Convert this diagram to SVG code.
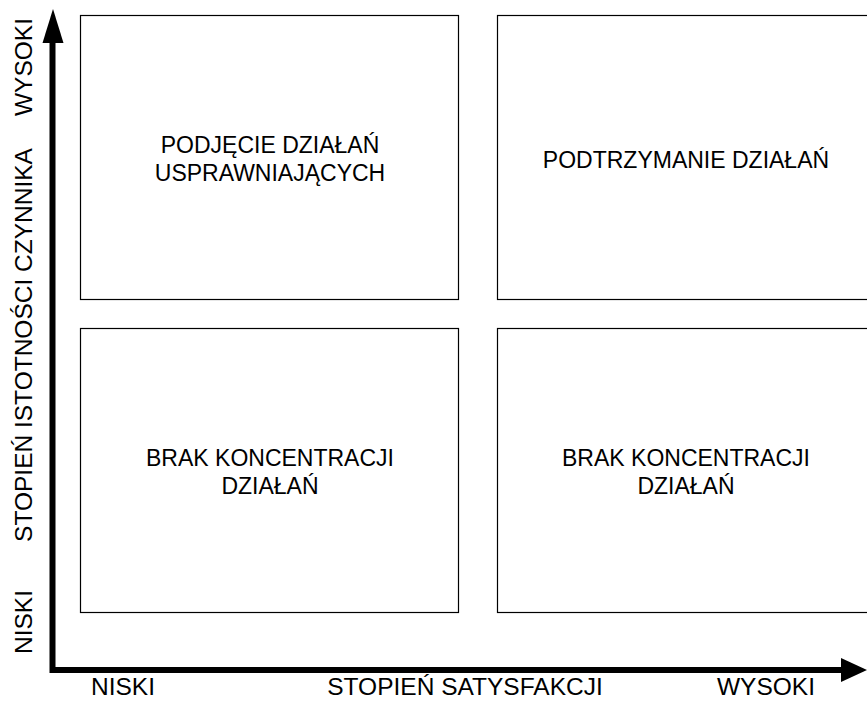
<svg xmlns="http://www.w3.org/2000/svg" width="867" height="701" viewBox="0 0 867 701">
<style>
.box{fill:#fff;stroke:#000;stroke-width:1.2}
.t{font-family:"Liberation Sans",Arial,sans-serif;font-size:23px;fill:#000;text-anchor:middle}
.a{font-family:"Liberation Sans",Arial,sans-serif;font-size:24.5px;fill:#000;text-anchor:middle}
.ax{stroke:#000;stroke-width:6;fill:none}
</style>
<rect width="867" height="701" fill="#fff"/>
<g id="q1"><rect class="box" x="80.5" y="15.5" width="378" height="284"/>
<text class="t" x="270" y="153">PODJĘCIE DZIAŁAŃ</text>
<text class="t" x="270" y="181">USPRAWNIAJĄCYCH</text></g>
<g id="q2"><rect class="box" x="497.5" y="15.5" width="378" height="284"/>
<text class="t" x="686" y="168">PODTRZYMANIE DZIAŁAŃ</text></g>
<g id="q3"><rect class="box" x="80.5" y="328.5" width="378" height="284"/>
<text class="t" x="270" y="466">BRAK KONCENTRACJI</text>
<text class="t" x="270" y="494">DZIAŁAŃ</text></g>
<g id="q4"><rect class="box" x="497.5" y="328.5" width="378" height="284"/>
<text class="t" x="686" y="466">BRAK KONCENTRACJI</text>
<text class="t" x="686" y="494">DZIAŁAŃ</text></g>
<g id="axes">
<path class="ax" d="M52.5,40 V670 H842" stroke-linejoin="miter"/>
<polygon points="53,9 42.5,43 63.5,43" fill="#000"/>
<polygon points="867,670 841,658 841,682" fill="#000"/>
</g>
<g id="labels">
<text class="a" transform="translate(32,67) rotate(-90)">WYSOKI</text>
<text class="a" transform="translate(32,345) rotate(-90)">STOPIEŃ ISTOTNOŚCI CZYNNIKA</text>
<text class="a" transform="translate(32,622) rotate(-90)">NISKI</text>
<text class="a" x="123" y="695">NISKI</text>
<text class="a" x="465" y="695">STOPIEŃ SATYSFAKCJI</text>
<text class="a" x="766" y="695">WYSOKI</text>
</g>
</svg>
